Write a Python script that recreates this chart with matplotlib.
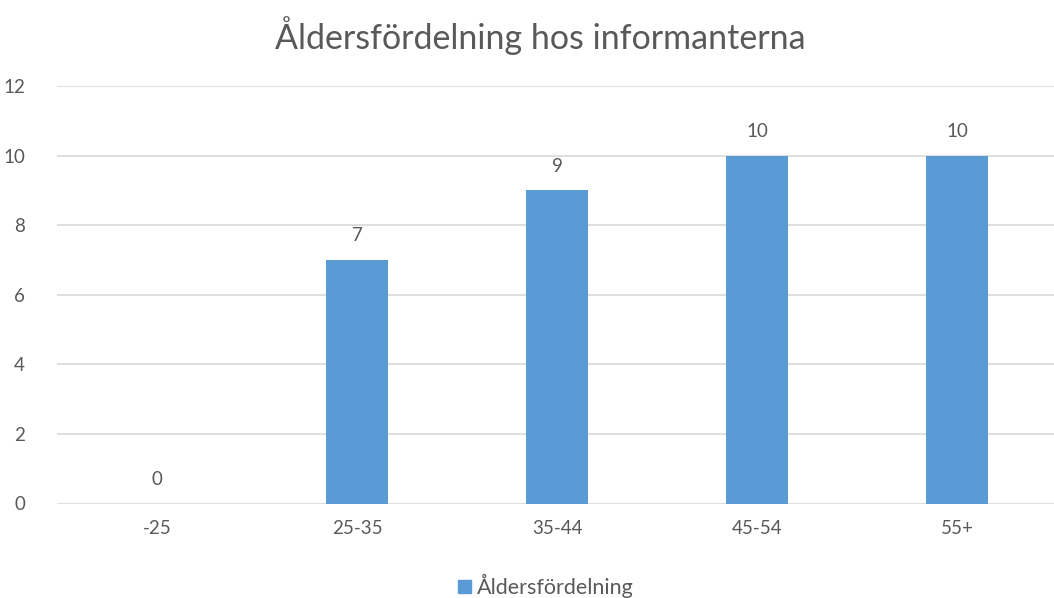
import matplotlib
matplotlib.use("Agg")
import matplotlib.pyplot as plt
from matplotlib.patches import Patch

categories = ["-25", "25-35", "35-44", "45-54", "55+"]
values = [0, 7, 9, 10, 10]
series_name = "Åldersfördelning"
title = "Åldersfördelning hos informanterna"
yticks = [0, 2, 4, 6, 8, 10, 12]

plt.rcParams['font.family'] = ['Lato', 'DejaVu Sans']
txt = "#595959"
bar_color = "#5B9BD5"

W, H = 1054, 598
fig = plt.figure(figsize=(W/100, H/100), dpi=100)
left, right = 57, 1054
bottom, top = 503.5, 86
ax = fig.add_axes([left/W, 1 - bottom/H, (right-left)/W, (bottom-top)/H])

x = list(range(len(categories)))
ax.bar(x, values, width=0.31, color=bar_color, zorder=3)
for xi, v in zip(x, values):
    ax.text(xi, v + 0.45, str(v), ha='center', va='bottom', fontsize=13.5, color=txt)

ax.set_ylim(0, 12)
ax.set_xlim(-0.5, 4.5 - 3/200)
ax.set_yticks(yticks)
ax.set_xticks(x)
ax.set_xticklabels(categories)
ax.tick_params(axis='both', length=0, labelsize=13.5, labelcolor=txt)
ax.tick_params(axis='y', pad=23)
ax.tick_params(axis='x', pad=12)
ax.grid(axis='y', color='#D9D9D9', linewidth=1.2, zorder=0)
for s in ax.spines.values():
    s.set_visible(False)

fig.text(540/W, 1 - 36/H, title, ha='center', va='center', fontsize=24.5, color=txt)
fig.legend(handles=[Patch(color=bar_color, label=series_name)], loc='center',
           bbox_to_anchor=(546/W, 1 - 586/H), frameon=False, fontsize=15.5,
           handlelength=0.6, handleheight=0.6, handletextpad=0.25, labelcolor=txt,
           borderpad=0.1)

fig.savefig("out.png", dpi=100)
